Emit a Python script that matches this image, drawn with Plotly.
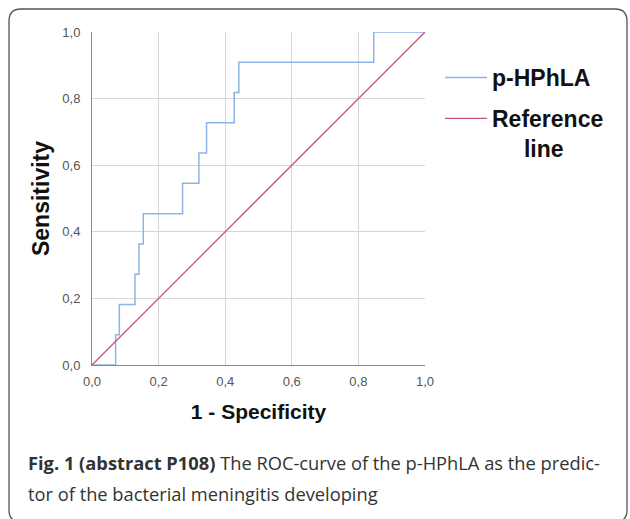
import plotly.graph_objects as go

# ---- data ----
fpr = [0.0, 0.071, 0.082, 0.129, 0.141, 0.154, 0.272, 0.321, 0.344, 0.427, 0.441, 0.846, 1.0]
tpr = [0.0, 0.0909, 0.1818, 0.2727, 0.3636, 0.4545, 0.5455, 0.6364, 0.7273, 0.8182, 0.9091, 1.0, 1.0]
ref_x = [0.0, 1.0]
ref_y = [0.0, 1.0]
tick_vals = [0.0, 0.2, 0.4, 0.6, 0.8, 1.0]
tick_text = ["0,0", "0,2", "0,4", "0,6", "0,8", "1,0"]

W, H = 630, 519
ML, MR, MT, MB = 92, 205, 32, 154
PW, PH = W - ML - MR, H - MT - MB


def px_x(px):
    return (px - ML) / PW


def px_y(py):
    return (H - MB - py) / PH


fig = go.Figure()
fig.add_trace(go.Scatter(
    x=fpr, y=tpr, mode="lines", line=dict(color="#8db4e3", width=1.5, shape="hv"),
    name="p-HPhLA", cliponaxis=False, legendgroup="a",
))
fig.add_trace(go.Scatter(
    x=ref_x, y=ref_y, mode="lines", line=dict(color="#c9557d", width=1.3),
    name="Reference<br>\u00a0\u00a0\u00a0\u00a0\u00a0line", cliponaxis=False, legendgroup="b",
))

axis_common = dict(
    range=[0, 1], tickvals=tick_vals, ticktext=tick_text,
    showgrid=True, gridcolor="#d6d6d6", gridwidth=1,
    zeroline=False, showline=True, linecolor="#8a8a8a", linewidth=1,
    ticks="", tickfont=dict(family="Liberation Sans, Arial", size=13, color="#555555"),
    fixedrange=True,
)

fig.update_layout(
    width=W, height=H,
    margin=dict(l=ML, r=MR, t=MT, b=MB),
    paper_bgcolor="white", plot_bgcolor="white",
    xaxis=dict(**axis_common, ticklabelstandoff=4,
               title=dict(text="<b>1 - Specificity</b>", standoff=16,
                          font=dict(family="Liberation Sans, Arial", size=21, color="#111111"))),
    yaxis=dict(**axis_common, ticklabelstandoff=8,
               title=dict(text="<b>Sensitivity</b>", standoff=6,
                          font=dict(family="Liberation Sans, Arial", size=23, color="#111111"))),
    showlegend=True,
    legend=dict(
        x=px_x(440), y=px_y(56), xanchor="left", yanchor="top",
        font=dict(family="Liberation Sans, Arial", size=23, color="#111111", weight="bold"),
        valign="top", bgcolor="rgba(0,0,0,0)", borderwidth=0,
        itemwidth=42, traceorder="grouped", tracegroupgap=8,
    ),
)

# rounded frame around figure + caption
x0, y0, x1, y1, r = 9, 9, 627, 522, 12
path = (
    f"M {px_x(x0 + r)},{px_y(y0)} L {px_x(x1 - r)},{px_y(y0)} "
    f"Q {px_x(x1)},{px_y(y0)} {px_x(x1)},{px_y(y0 + r)} "
    f"L {px_x(x1)},{px_y(y1 - r)} Q {px_x(x1)},{px_y(y1)} {px_x(x1 - r)},{px_y(y1)} "
    f"L {px_x(x0 + r)},{px_y(y1)} Q {px_x(x0)},{px_y(y1)} {px_x(x0)},{px_y(y1 - r)} "
    f"L {px_x(x0)},{px_y(y0 + r)} Q {px_x(x0)},{px_y(y0)} {px_x(x0 + r)},{px_y(y0)} Z"
)
fig.add_shape(type="path", path=path, xref="paper", yref="paper",
              line=dict(color="#555555", width=1.3), layer="above")

cap_font = dict(family="Open Sans, Noto Sans", size=18.3, color="#333333")
fig.add_annotation(
    text="<b>Fig. 1 (abstract P108)</b> The ROC-curve of the p-HPhLA as the predic-",
    xref="paper", yref="paper", x=px_x(26), y=px_y(462), xanchor="left", yanchor="middle",
    showarrow=False, font=cap_font, align="left",
)
fig.add_annotation(
    text="tor of the bacterial meningitis developing",
    xref="paper", yref="paper", x=px_x(26), y=px_y(493), xanchor="left", yanchor="middle",
    showarrow=False, font=cap_font, align="left",
)

fig.write_html("out.html")
